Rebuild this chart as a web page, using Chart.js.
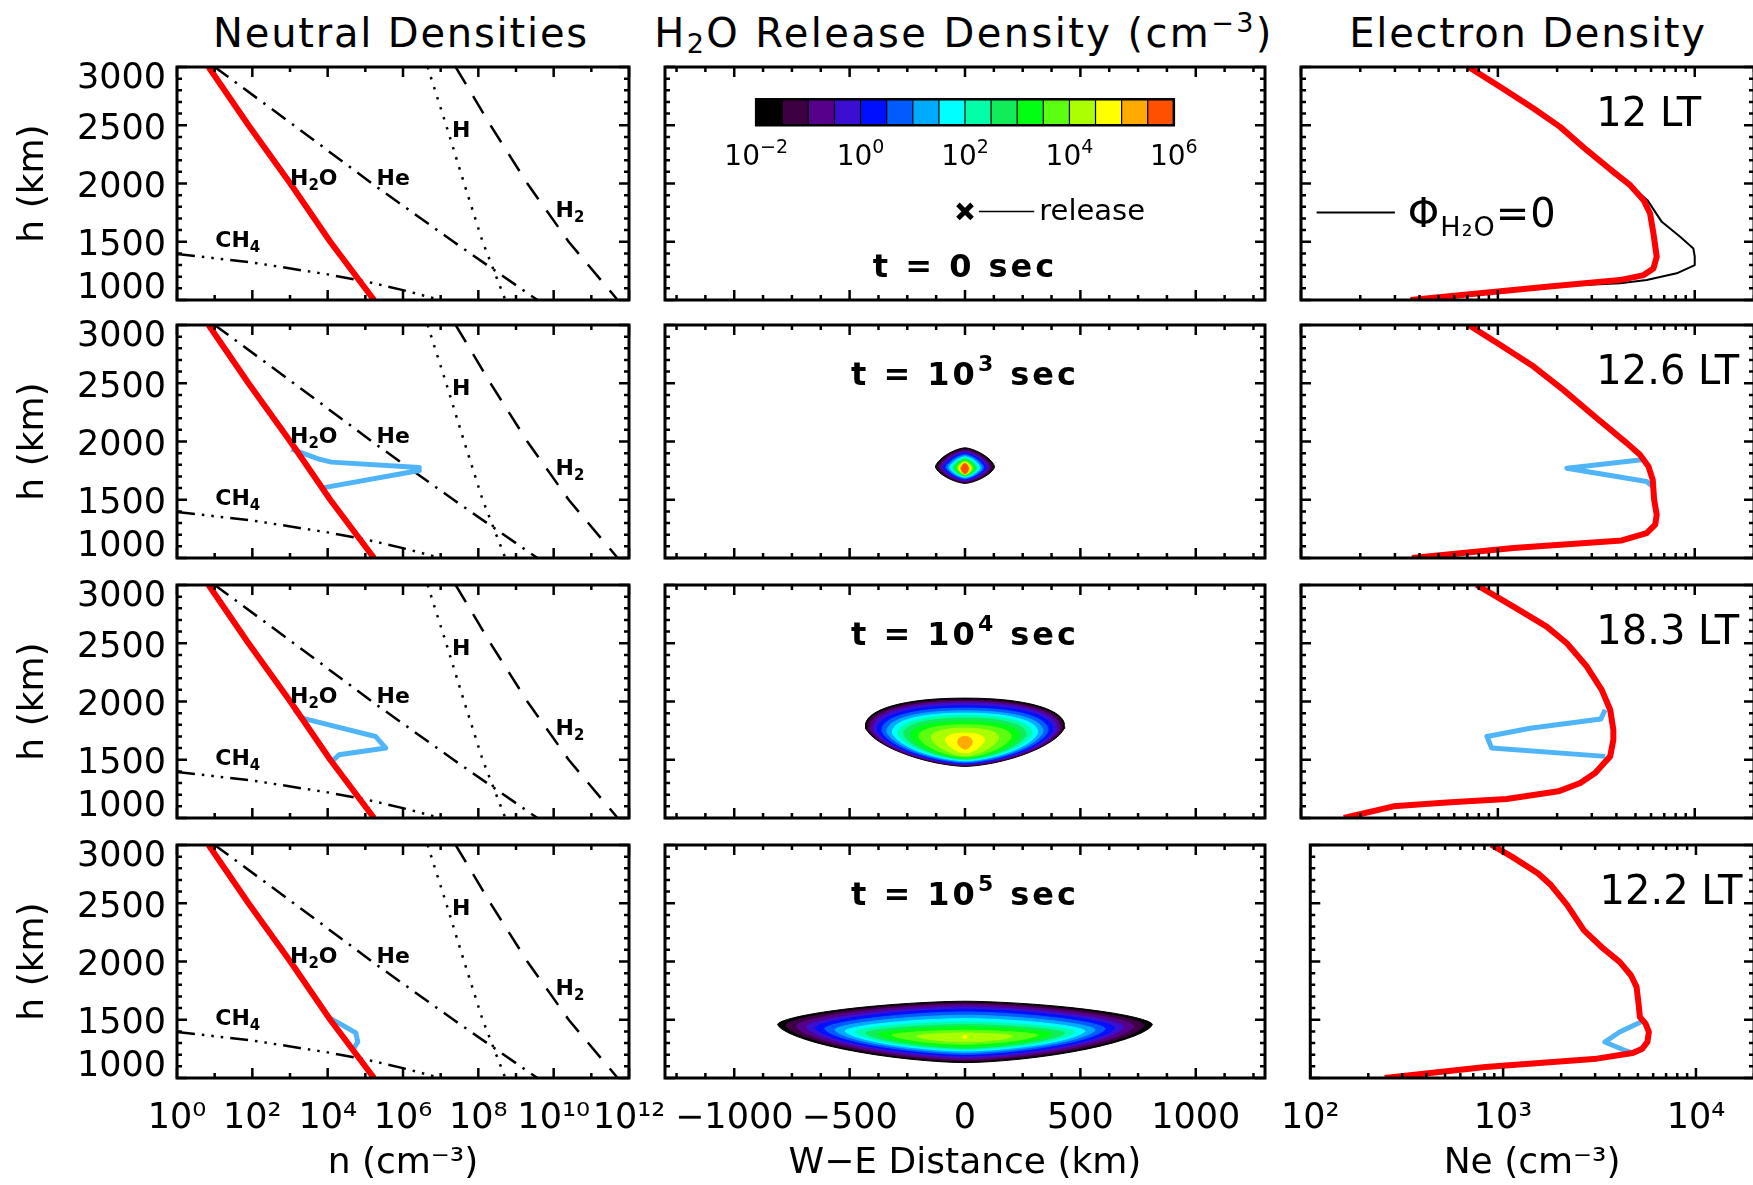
<!DOCTYPE html>
<html lang="en">
<head>
<meta charset="utf-8">
<title>H2O release: neutral, plume and electron densities</title>
<script src="https://cdn.jsdelivr.net/npm/chart.js@4.4.1/dist/chart.umd.min.js"></script>
<style>
  html, body { margin: 0; padding: 0; background: #fff; }
  body { position: relative; width: 1753px; height: 1185px; overflow: hidden;
         font-family: "DejaVu Sans", sans-serif; color: #000; }
  canvas { position: absolute; }
  .coltitle { position: absolute; top: 11px; font-size: 40px; line-height: 44px;
              letter-spacing: 1.8px; white-space: nowrap; transform: translateX(-50%); }
  .coltitle.wide { letter-spacing: 2.4px; }
  .coltitle sub, .coltitle sup { font-size: 27px; line-height: 0; }
  .coltitle sub { vertical-align: -6px; }
  .coltitle sup { vertical-align: 15px; }
</style>
</head>
<body>
<div class="coltitle" style="left:401px">Neutral Densities</div>
<div class="coltitle wide" style="left:964px">H<sub>2</sub>O Release Density (cm<sup>−3</sup>)</div>
<div class="coltitle" style="left:1528px">Electron Density</div>
<script>
// ---------------- data ----------------

// neutral background densities (cm^-3) on an altitude grid (km)
const neutralAlt = [3000, 2500, 2000, 1500, 1000];
const nH2O = [6.9, 79, 1020, 11700, 170000];
const nHe  = [10, 1260, 150000, 2.2e7, 3.7e9];
const nH   = [4.5e6, 1.4e7, 4.2e7, 1.3e8, 5.2e8];
const nH2  = [2.5e7, 2.1e8, 2.0e9, 2.5e10, 5.0e11];
const ch4Alt = [1395, 1322, 1220, 1160, 1085, 1000];
const nCH4   = [1, 100, 1e4, 1e5, 1e6, 1e7];

// H2O including the release, t = 1e3, 1e4, 1e5 s
const relAlt = [
  [1934, 1849, 1823, 1777, 1751, 1600],
  [1929, 1857, 1700, 1600, 1543, 1486],
  [1524, 1467, 1387, 1309, 1238]
];
const relH2O = [
  [1100, 5900, 12600, 2.7e6, 2.7e6, 6800],
  [1320, 2100, 1.86e5, 3.5e5, 2.0e4, 1.3e4],
  [9800, 2.1e4, 5.6e4, 6.3e4, 4.6e4]
];

// release point: W-E distance (km), altitude (km)
const releaseX = 0;
const releaseAlt = 1760;

// plume density bins, half a decade each from 1e-2 to 1e6 cm^-3
const levelColors = ['#000000', '#3d0042', '#56008c', '#3a0fd2', '#0010ff', '#005cff', '#00aaff', '#00ffff',
                     '#00ffa8', '#10ec5a', '#00ff10', '#5cff10', '#aaff00', '#ffff00', '#ffaa00', '#ff5000'];
const cbExponents = [-2, 0, 2, 4, 6];

// plume contours for t = 1e3, 1e4, 1e5 s: half width (km) and top / bottom / widest altitude (km) of each bin
const plumeWidth = [
  [128, 119, 109, 100, 91, 82, 73, 64, 56, 48, 41, 35, 29, 24, 19, 14],
  [432, 424, 412, 398, 380, 360, 338, 315, 290, 265, 236, 200, 146, 84, 31],
  [812, 777, 732, 688, 649, 608, 564, 519, 475, 430, 377, 315, 208, 9]
];
const plumeTop = [
  [1946, 1934, 1922, 1910, 1899, 1888, 1878, 1868, 1858, 1849, 1841, 1834, 1827, 1821, 1815, 1810],
  [2029, 2014, 2000, 1986, 1963, 1943, 1920, 1900, 1880, 1857, 1829, 1800, 1771, 1729, 1700],
  [1659, 1645, 1630, 1610, 1590, 1567, 1539, 1510, 1481, 1458, 1438, 1410, 1387, 1367]
];
const plumeBottom = [
  [1640, 1648, 1656, 1664, 1672, 1680, 1687, 1694, 1700, 1706, 1711, 1715, 1718, 1721, 1723, 1725],
  [1443, 1449, 1454, 1460, 1466, 1474, 1483, 1491, 1500, 1506, 1514, 1523, 1534, 1557, 1591],
  [1132, 1146, 1160, 1175, 1189, 1203, 1218, 1232, 1244, 1255, 1266, 1289, 1309, 1338]
];
const plumeMid = [
  [1783, 1782, 1781, 1780, 1779, 1778, 1777, 1776, 1775, 1774, 1773, 1772, 1771, 1770, 1769, 1768],
  [1786, 1780, 1774, 1768, 1760, 1752, 1744, 1736, 1728, 1720, 1710, 1700, 1690, 1672, 1650],
  [1461, 1455, 1447, 1440, 1432, 1424, 1415, 1405, 1397, 1388, 1380, 1370, 1360, 1352]
];

// electron density (cm^-3) vs altitude (km) for each time step
const neAlt = [
  [3000, 2829, 2643, 2486, 2286, 2100, 1986, 1857, 1743, 1571, 1371, 1271, 1214, 1171, 1114, 1057, 1000],
  [3000, 2829, 2643, 2443, 2200, 1986, 1886, 1786, 1671, 1500, 1371, 1286, 1214, 1151, 1086, 1000],
  [3000, 2814, 2643, 2500, 2300, 2100, 1929, 1757, 1671, 1529, 1386, 1300, 1229, 1163, 1134, 1100, 1000],
  [3000, 2900, 2756, 2656, 2484, 2269, 2112, 1997, 1882, 1782, 1639, 1524, 1467, 1395, 1309, 1252, 1215, 1166, 1095, 1000]
];
const neVal = [
  [710, 1030, 1520, 2070, 2830, 3860, 4700, 5500, 5930, 6170, 6410, 6170, 5500, 4170, 1770, 810, 360],
  [710, 1030, 1520, 2150, 3180, 4520, 5270, 5820, 6120, 6220, 6410, 6300, 5700, 4260, 1200, 366],
  [780, 1200, 1770, 2240, 2830, 3370, 3720, 3860, 3860, 3720, 3120, 2620, 2030, 1110, 550, 295, 165],
  [870, 1110, 1520, 1770, 2150, 2620, 3300, 4020, 4600, 4920, 5040, 5120, 5480, 5700, 5600, 5270, 4700, 3060, 810, 243]
];
// no-release profile (phi_H2O = 0) at 12 LT
const neQuietAlt = [3000, 2829, 2643, 2486, 2286, 2100, 1986, 1857, 1671, 1543, 1443, 1371, 1300, 1229, 1171, 1143, 1114, 1057, 1000];
const neQuiet = [710, 1030, 1520, 2070, 2830, 3860, 4700, 5750, 6800, 8430, 9840, 10000, 10000, 8100, 5700, 4180, 1770, 810, 360];
// dip inside the release region, t = 1e3, 1e4, 1e5 s
const neRelAlt = [
  [1843, 1770, 1657, 1610],
  [1929, 1849, 1771, 1700, 1600, 1529],
  [1481, 1395, 1309, 1238, 1215]
];
const neRel = [
  [5380, 2240, 5700, 6170],
  [3510, 3330, 1460, 880, 930, 3510],
  [5180, 4020, 3370, 4260, 4700]
];

const timeLabels = ['t = 0 sec', 't = 10^{3} sec', 't = 10^{4} sec', 't = 10^{5} sec'];
const ltLabels = ['12 LT', '12.6 LT', '18.3 LT', '12.2 LT'];

// ---------------- layout / style ----------------
const FONT = '"DejaVu Sans", sans-serif';
const RED = '#ff0000';
const BLUE = '#4fb5f8';
const PAGE_H = 1185;
const COLS = [{left: 177, right: 629}, {left: 665, right: 1265}, {left: 1301, right: 1754}];
const ROWS = [{top: 67, bottom: 300}, {top: 325, bottom: 558}, {top: 585, bottom: 818}, {top: 845, bottom: 1078}];
const DASH = {
  dashDot: [17, 8, 2.5, 8],
  dot: [2.5, 8],
  longDash: [20, 14],
  dashDot3: [18, 7, 2.5, 7, 2.5, 7, 2.5, 7]
};
// roundness of the plume outlines (2 = ellipse, lower = pointier)
const PLUME_SHAPE = [{up: 1.5, down: 1.5}, {up: 2.2, down: 1.6}, {up: 1.6, down: 1.6}];

const SUP = {'-': '⁻', '0': '⁰', '1': '¹', '2': '²', '3': '³', '4': '⁴', '5': '⁵', '6': '⁶', '7': '⁷', '8': '⁸', '9': '⁹'};
const sup = n => String(n).split('').map(ch => SUP[ch]).join('');
const pow10 = v => '10' + sup(Math.round(Math.log10(v)));

// tick positions: [value, isMajor]
function linTicks(lo, hi, step, majorStep) {
  const t = [];
  for (let v = lo; v <= hi + 1e-9; v += step) t.push([v, Math.abs(v % majorStep) < 1e-9]);
  return t;
}
function decadeTicks(lo, hi) {
  const t = [];
  for (let e = lo; e <= hi; e++) t.push([Math.pow(10, e), e % 2 === 0]);
  return t;
}
function logTicks(min, max) {
  const t = [];
  for (let e = Math.floor(Math.log10(min)); Math.pow(10, e) <= max; e++) {
    for (let m = 1; m <= 9; m++) {
      const v = m * Math.pow(10, e);
      if (v >= min && v <= max) t.push([v, m === 1]);
    }
  }
  return t;
}
const altTicks = linTicks(1000, 3000, 100, 500);

const xAxes = [
  {scale: {type: 'logarithmic', min: 1, max: 1e12}, labels: [1, 1e2, 1e4, 1e6, 1e8, 1e10, 1e12],
   format: pow10, title: 'n (cm⁻³)', ticks: decadeTicks(0, 12)},
  {scale: {type: 'linear', min: -1300, max: 1300}, labels: [-1000, -500, 0, 500, 1000],
   format: v => (v < 0 ? '−' + Math.abs(v) : String(v)), title: 'W−E Distance (km)', ticks: linTicks(-1250, 1250, 125, 500)},
  {scale: {type: 'logarithmic', min: 100, max: 2e4}, labels: [100, 1000, 10000],
   format: pow10, title: 'Ne (cm⁻³)', ticks: logTicks(100, 2e4)}
];

// ---------------- helpers ----------------
const series = (xs, hs) => xs.map((v, i) => ({x: v, y: hs[i]}));
const curve = (xs, hs, style) => Object.assign({
  data: series(xs, hs), showLine: true, pointRadius: 0, borderJoinStyle: 'round', fill: false
}, style);

// closed outline of one plume bin around x = 0
function plumeOutline(w, top, mid, bottom, shape) {
  const pts = [];
  const n = 64;
  for (let k = 0; k <= n; k++) {
    const t = (k / n) * 2 * Math.PI;
    const c = Math.cos(t), s = Math.sin(t);
    const e = 2 / (s >= 0 ? shape.up : shape.down);
    pts.push({
      x: w * Math.sign(c) * Math.pow(Math.abs(c), e),
      y: s >= 0 ? mid + (top - mid) * Math.pow(s, e) : mid - (mid - bottom) * Math.pow(-s, e)
    });
  }
  return pts;
}

// text with _{sub} and ^{sup} pieces
function parseRich(str) {
  const parts = [];
  const re = /([_^])\{([^}]*)\}/g;
  let last = 0, m;
  while ((m = re.exec(str))) {
    if (m.index > last) parts.push({t: str.slice(last, m.index), mode: ''});
    parts.push({t: m[2], mode: m[1] === '_' ? 'sub' : 'sup'});
    last = re.lastIndex;
  }
  if (last < str.length) parts.push({t: str.slice(last), mode: ''});
  return parts;
}
function drawRich(ctx, str, px, py, f) {
  const parts = parseRich(str);
  const fontFor = mode => `${f.weight || 'normal'} ${mode ? Math.round(f.size * 0.68) : f.size}px ${FONT}`;
  ctx.letterSpacing = (f.spacing || 0) + 'px';
  let total = 0;
  for (const p of parts) {
    ctx.font = fontFor(p.mode);
    p.w = ctx.measureText(p.t).width;
    total += p.w;
  }
  let x = f.align === 'left' ? px : px - total / 2;
  ctx.textAlign = 'left';
  ctx.textBaseline = 'alphabetic';
  for (const p of parts) {
    ctx.font = fontFor(p.mode);
    const dy = p.mode === 'sub' ? f.size * 0.22 : p.mode === 'sup' ? -f.size * 0.42 : 0;
    ctx.fillText(p.t, x, py + dy);
    x += p.w;
  }
  ctx.letterSpacing = '0px';
}

function framePlugin(xTicks) {
  return {
    id: 'frameTicks',
    afterDatasetsDraw(chart) {
      const {ctx, chartArea: a} = chart;
      const {x, y} = chart.scales;
      ctx.save();
      ctx.strokeStyle = '#000';
      ctx.lineWidth = 2.5;
      ctx.beginPath();
      for (const [v, major] of xTicks) {
        const px = x.getPixelForValue(v), len = major ? 10 : 5;
        ctx.moveTo(px, a.bottom); ctx.lineTo(px, a.bottom - len);
        ctx.moveTo(px, a.top); ctx.lineTo(px, a.top + len);
      }
      for (const [v, major] of altTicks) {
        const py = y.getPixelForValue(v), len = major ? 10 : 5;
        ctx.moveTo(a.left, py); ctx.lineTo(a.left + len, py);
        ctx.moveTo(a.right, py); ctx.lineTo(a.right - len, py);
      }
      ctx.stroke();
      ctx.lineWidth = 3;
      ctx.strokeRect(a.left, a.top, a.right - a.left, a.bottom - a.top);
      ctx.restore();
    }
  };
}

function drawColorbar(ctx, x, y, cb) {
  const x0 = x.getPixelForValue(cb.x0), x1 = x.getPixelForValue(cb.x1);
  const top = y.getPixelForValue(cb.top), bot = y.getPixelForValue(cb.bottom);
  const n = levelColors.length, w = (x1 - x0) / n;
  levelColors.forEach((col, i) => {
    ctx.fillStyle = col;
    ctx.fillRect(x0 + i * w, top, w + 0.6, bot - top);
  });
  ctx.strokeStyle = '#000';
  ctx.lineWidth = 1.2;
  ctx.beginPath();
  for (let i = 1; i < n; i++) { ctx.moveTo(x0 + i * w, top); ctx.lineTo(x0 + i * w, bot); }
  ctx.stroke();
  ctx.lineWidth = 2.5;
  ctx.strokeRect(x0, top, x1 - x0, bot - top);
  ctx.fillStyle = '#000';
  const lo = cbExponents[0], hi = cbExponents[cbExponents.length - 1];
  for (const e of cbExponents) {
    drawRich(ctx, '10^{' + (e < 0 ? '−' + (-e) : e) + '}', x0 + (x1 - x0) * (e - lo) / (hi - lo),
             y.getPixelForValue(cb.labelAlt), {size: 28});
  }
}

function drawQuietLegend(ctx, x, y, q) {
  const py = y.getPixelForValue(q.lineAlt);
  ctx.strokeStyle = '#000';
  ctx.lineWidth = 2;
  ctx.beginPath();
  ctx.moveTo(x.getPixelForValue(q.x0), py);
  ctx.lineTo(x.getPixelForValue(q.x1), py);
  ctx.stroke();
  drawRich(ctx, 'Φ_{H₂O}=0', x.getPixelForValue(q.textX), y.getPixelForValue(q.baseAlt),
           {size: 40, align: 'left', spacing: 1});
}

function notesPlugin(items) {
  return {
    id: 'panelNotes',
    afterDraw(chart) {
      const {ctx} = chart;
      const {x, y} = chart.scales;
      ctx.save();
      ctx.fillStyle = '#000';
      for (const it of items) {
        if (it.kind === 'colorbar') { drawColorbar(ctx, x, y, it); continue; }
        if (it.kind === 'quiet') { drawQuietLegend(ctx, x, y, it); continue; }
        if (it.kind === 'leader') {
          const py = y.getPixelForValue(it.alt);
          ctx.strokeStyle = '#000';
          ctx.lineWidth = 1.5;
          ctx.beginPath();
          ctx.moveTo(x.getPixelForValue(it.x0), py);
          ctx.lineTo(x.getPixelForValue(it.x1), py);
          ctx.stroke();
          continue;
        }
        ctx.fillStyle = '#000';
        drawRich(ctx, it.text, x.getPixelForValue(it.x), y.getPixelForValue(it.y), it.font);
      }
      ctx.restore();
    }
  };
}

// ---------------- panel contents ----------------
function neutralPanel(r) {
  const datasets = [
    curve(nH2O, neutralAlt, {borderColor: RED, borderWidth: 6, order: 0}),
    curve(nHe, neutralAlt, {borderColor: '#000', borderWidth: 2.5, borderDash: DASH.dashDot, order: 3}),
    curve(nH, neutralAlt, {borderColor: '#000', borderWidth: 2.5, borderDash: DASH.dot, order: 3}),
    curve(nH2, neutralAlt, {borderColor: '#000', borderWidth: 2.5, borderDash: DASH.longDash, order: 3}),
    curve(nCH4, ch4Alt, {borderColor: '#000', borderWidth: 2.5, borderDash: DASH.dashDot3, order: 3})
  ];
  if (r > 0) datasets.push(curve(relH2O[r - 1], relAlt[r - 1], {borderColor: BLUE, borderWidth: 5, order: 1}));
  const f = {size: 22, weight: 'bold'};
  const notes = [
    {text: 'H_{2}O', x: 4270, y: 1986, font: f},
    {text: 'He', x: 5.5e5, y: 1986, font: f},
    {text: 'H', x: 3.5e7, y: 2400, font: f},
    {text: 'H_{2}', x: 2.7e10, y: 1714, font: f},
    {text: 'CH_{4}', x: 41, y: 1455, font: f}
  ];
  return {datasets, notes};
}

function plumePanel(r) {
  const tf = {size: 32, weight: 'bold', spacing: 3};
  if (r === 0) {
    return {
      datasets: [{
        data: [{x: releaseX, y: releaseAlt}], pointStyle: 'crossRot', pointRadius: 10,
        borderColor: '#000', backgroundColor: '#000', borderWidth: 5
      }],
      notes: [
        {kind: 'colorbar', x0: -905, x1: 905, top: 2723, bottom: 2500, labelAlt: 2160},
        {kind: 'leader', x0: 60, x1: 300, alt: releaseAlt},
        {text: 'release', x: 322, y: 1686, font: {size: 29, align: 'left'}},
        {text: timeLabels[0], x: 0, y: 1200, font: tf}
      ]
    };
  }
  const k = r - 1, shape = PLUME_SHAPE[k];
  const datasets = plumeWidth[k].map((w, i) => ({
    data: plumeOutline(w, plumeTop[k][i], plumeMid[k][i], plumeBottom[k][i], shape),
    showLine: true, pointRadius: 0, fill: 'shape',
    backgroundColor: levelColors[i], borderColor: levelColors[i], borderWidth: 1, order: -i
  }));
  return {datasets, notes: [{text: timeLabels[r], x: 0, y: 2486, font: tf}]};
}

function electronPanel(r) {
  const datasets = [curve(neVal[r], neAlt[r], {borderColor: RED, borderWidth: 6, order: 0})];
  const notes = [{text: ltLabels[r], x: 3162, y: 2495, font: {size: 40, align: 'left'}}];
  if (r === 0) {
    datasets.push(curve(neQuiet, neQuietAlt, {borderColor: '#000', borderWidth: 2, order: 2}));
    notes.push({kind: 'quiet', x0: 120, x1: 300, lineAlt: 1751, textX: 349, baseAlt: 1629});
  } else {
    datasets.push(curve(neRel[r - 1], neRelAlt[r - 1], {borderColor: BLUE, borderWidth: 5, order: 1}));
  }
  return {datasets, notes};
}

// ---------------- build the grid ----------------
function makePanel(r, c, content) {
  const col = COLS[c], row = ROWS[r], ax = xAxes[c];
  const showY = c === 0, showX = r === ROWS.length - 1;
  const box = {
    left: c === 0 ? 0 : col.left - 40,
    right: col.right + (c === 0 ? 60 : 40),
    top: row.top - 40,
    bottom: showX ? PAGE_H : row.bottom + 40
  };
  const canvas = document.createElement('canvas');
  canvas.width = box.right - box.left;
  canvas.height = box.bottom - box.top;
  canvas.style.left = box.left + 'px';
  canvas.style.top = box.top + 'px';
  document.body.appendChild(canvas);

  const yWidth = showY ? col.left - box.left : 0;
  const xHeight = showX ? PAGE_H - row.bottom : 0;

  return new Chart(canvas, {
    type: 'scatter',
    data: {datasets: content.datasets},
    plugins: [framePlugin(ax.ticks), notesPlugin(content.notes)],
    options: {
      responsive: false,
      animation: false,
      devicePixelRatio: 1,
      events: [],
      layout: {padding: {left: showY ? 0 : 40, right: box.right - col.right, top: 40, bottom: showX ? 0 : 40}},
      plugins: {legend: {display: false}, tooltip: {enabled: false}},
      scales: {
        x: Object.assign({}, ax.scale, {
          position: 'bottom',
          afterBuildTicks: s => { s.ticks = ax.labels.map(v => ({value: v})); },
          afterFit: s => { s.height = xHeight; },
          grid: {display: false, drawTicks: false},
          border: {display: false},
          ticks: {display: showX, autoSkip: false, maxRotation: 0, minRotation: 0, padding: 20,
                  color: '#000', font: {family: FONT, size: 35}, callback: v => ax.format(v)},
          title: {display: showX, text: ax.title, color: '#000', font: {family: FONT, size: 36}, padding: 0}
        }),
        y: {
          type: 'linear', min: 1000, max: 3000, position: 'left',
          afterBuildTicks: s => { s.ticks = [1000, 1500, 2000, 2500, 3000].map(v => ({value: v})); },
          afterFit: s => { s.width = yWidth; },
          grid: {display: false, drawTicks: false},
          border: {display: false},
          ticks: {display: showY, autoSkip: false, padding: 11, labelOffset: 4.5, color: '#000',
                  font: {family: FONT, size: 35, lineHeight: 0.44},
                  callback: v => (v === 3000 ? ['', '3000'] : v === 1000 ? ['1000', '', ''] : String(v))},
          title: {display: showY, text: 'h (km)', color: '#000', font: {family: FONT, size: 36},
                  padding: {top: 12, bottom: 0}}
        }
      }
    }
  });
}

const builders = [neutralPanel, plumePanel, electronPanel];
for (let r = 0; r < ROWS.length; r++) {
  for (let c = 0; c < COLS.length; c++) {
    makePanel(r, c, builders[c](r));
  }
}
</script>
</body>
</html>
